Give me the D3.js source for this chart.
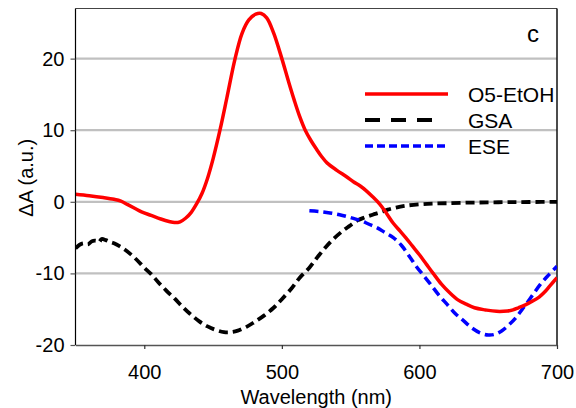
<!DOCTYPE html>
<html>
<head>
<meta charset="utf-8">
<script src="https://cdn.jsdelivr.net/npm/d3@7"></script>
<style>
  html, body { margin: 0; padding: 0; background: #fff; }
  svg { display: block; font-family: "Liberation Sans", Arial, sans-serif; }
</style>
</head>
<body>
<svg id="chart" width="576" height="408"></svg>
<script>
// Transient absorption difference spectra (ΔA vs wavelength)
const xTicks = [400, 500, 600, 700];
const xTickLabels = ["400", "500", "600", "700"];
const yTicks = [-20, -10, 0, 10, 20];
const yTickLabels = ["-20", "-10", "0", "10", "20"];
const gridValues = [-10, 0, 10, 20];

const seriesNames = ["O5-EtOH", "GSA", "ESE"];

// O5-EtOH measured spectrum
const etohWl = [350, 360, 370, 378, 383, 388, 393, 398, 405, 412, 418, 422, 426, 430, 434, 438, 442, 446, 450, 455, 460, 466, 471, 476, 481, 485, 489, 494, 500, 505, 509, 513, 517, 521, 525, 529, 533, 540, 547, 552, 557, 561, 566, 571, 576, 581, 586, 590, 595, 600, 605, 610, 616, 622, 628, 634, 640, 648, 656, 664, 668, 672, 677, 682, 687, 691, 695, 700];
const etohDA = [1.05, 0.85, 0.6, 0.35, 0.1, -0.4, -0.9, -1.4, -1.9, -2.4, -2.75, -2.9, -2.8, -2.3, -1.5, -0.3, 1.2, 3.3, 6.0, 10.0, 14.5, 20.0, 23.5, 25.4, 26.2, 26.3, 25.7, 23.6, 20.0, 16.7, 14.2, 11.9, 10.0, 8.6, 7.4, 6.3, 5.4, 4.4, 3.5, 2.8, 2.2, 1.6, 0.7, -0.3, -1.6, -3.0, -4.1, -5.0, -6.2, -7.4, -8.7, -10.0, -11.5, -12.7, -13.7, -14.3, -14.8, -15.1, -15.3, -15.25, -15.1, -14.8, -14.4, -13.9, -13.3, -12.6, -11.7, -10.6];

// Ground-state absorption component
const gsaWl = [350, 353, 356, 359, 362, 365, 367, 369, 372, 375, 378, 382, 386, 390, 395, 400, 405, 410, 416, 422, 428, 433, 440, 446, 452, 458, 463, 468, 474, 480, 487, 494, 500, 507, 513, 520, 526, 532, 538, 544, 549, 555, 560, 566, 571, 577, 583, 590, 600, 610, 620, 635, 650, 665, 680, 700];
const gsaDA = [-6.5, -6.0, -5.8, -5.95, -5.5, -5.45, -5.65, -5.2, -5.35, -5.6, -5.8, -6.2, -6.7, -7.3, -8.2, -9.2, -10.1, -11.2, -12.4, -13.5, -14.7, -15.6, -16.7, -17.4, -17.9, -18.2, -18.2, -18.0, -17.5, -16.8, -15.9, -14.8, -13.6, -12.1, -10.6, -9.2, -7.7, -6.3, -5.1, -4.1, -3.4, -2.6, -2.2, -1.8, -1.5, -1.1, -0.8, -0.55, -0.35, -0.25, -0.2, -0.12, -0.08, -0.05, -0.03, 0.0];

// Excited-state emission component
const eseWl = [520, 527, 535, 542, 550, 557, 563, 569, 575, 581, 587, 593, 598, 603, 608, 614, 620, 626, 632, 638, 644, 650, 655, 660, 665, 670, 676, 682, 688, 694, 700];
const eseDA = [-1.25, -1.35, -1.55, -1.8, -2.2, -2.6, -3.1, -3.6, -4.3, -5.0, -6.1, -7.7, -9.1, -10.3, -11.5, -13.0, -14.3, -15.6, -16.6, -17.6, -18.3, -18.6, -18.5, -18.0, -17.2, -16.2, -14.7, -13.1, -11.5, -10.2, -9.0];

const svg = d3.select("#chart");
const plot = { left: 75.5, right: 557, top: 8.5, bottom: 345 };

const x = d3.scaleLinear().domain([350, 700]).range([plot.left, plot.right]);
const y = d3.scaleLinear().domain([-20, 27]).range([plot.bottom, plot.top]);

// clip region for the curves
svg.append("defs").append("clipPath").attr("id", "plotClip")
  .append("rect")
  .attr("x", plot.left).attr("y", plot.top)
  .attr("width", plot.right - plot.left).attr("height", plot.bottom - plot.top);

// horizontal grid lines
svg.append("g").selectAll("line").data(gridValues).join("line")
  .attr("x1", plot.left).attr("x2", plot.right)
  .attr("y1", d => y(d)).attr("y2", d => y(d))
  .attr("stroke", "#c0c0c0").attr("stroke-width", 2.2);

// frame: top and right edges
svg.append("line").attr("x1", plot.left).attr("x2", plot.right)
  .attr("y1", plot.top).attr("y2", plot.top)
  .attr("stroke", "#444").attr("stroke-width", 1.2);
svg.append("line").attr("x1", plot.right).attr("x2", plot.right)
  .attr("y1", plot.top).attr("y2", plot.bottom)
  .attr("stroke", "#111").attr("stroke-width", 1.5);

const line = d3.line()
  .x(d => x(d[0])).y(d => y(d[1]))
  .curve(d3.curveCatmullRom.alpha(0.5));

const curves = svg.append("g").attr("clip-path", "url(#plotClip)");

curves.append("path")
  .datum(gsaWl.map((w, i) => [w, gsaDA[i]]))
  .attr("d", line).attr("fill", "none")
  .attr("stroke", "#000").attr("stroke-width", 3.8)
  .attr("stroke-dasharray", "9,5");

curves.append("path")
  .datum(eseWl.map((w, i) => [w, eseDA[i]]))
  .attr("d", line).attr("fill", "none")
  .attr("stroke", "#0000ff").attr("stroke-width", 3.5)
  .attr("stroke-dasharray", "9,5");

curves.append("path")
  .datum(etohWl.map((w, i) => [w, etohDA[i]]))
  .attr("d", line).attr("fill", "none")
  .attr("stroke", "#ff0000").attr("stroke-width", 3.5)
  .attr("stroke-linejoin", "round");

// left axis
const yAxis = d3.axisLeft(y).tickValues(yTicks)
  .tickFormat((d, i) => yTickLabels[i]).tickSize(5).tickPadding(6).tickSizeOuter(0);
const gy = svg.append("g").attr("transform", `translate(${plot.left},0)`).call(yAxis);
gy.select(".domain").attr("stroke", "#000").attr("stroke-width", 1.2)
  .attr("d", `M0,${plot.top}V${plot.bottom}`);
gy.selectAll(".tick line").attr("stroke", "#555").attr("stroke-width", 1.2);
gy.selectAll(".tick text").attr("font-size", 20).attr("fill", "#000")
  .attr("font-family", "Liberation Sans, Arial, sans-serif");

// bottom axis
const xAxis = d3.axisBottom(x).tickValues(xTicks)
  .tickFormat((d, i) => xTickLabels[i]).tickSize(4).tickPadding(16).tickSizeOuter(0);
const gx = svg.append("g").attr("transform", `translate(0,${plot.bottom})`).call(xAxis);
gx.select(".domain").attr("stroke", "#555").attr("stroke-width", 1.6);
gx.selectAll(".tick line").attr("stroke", "#333").attr("stroke-width", 1.2);
gx.selectAll(".tick text").attr("font-size", 20).attr("fill", "#000")
  .attr("font-family", "Liberation Sans, Arial, sans-serif");

// axis titles
svg.append("text")
  .attr("x", (plot.left + plot.right) / 2).attr("y", 404)
  .attr("text-anchor", "middle").attr("font-size", 20).attr("fill", "#000")
  .text("Wavelength (nm)");
svg.append("text")
  .attr("transform", `translate(33,${(plot.top + plot.bottom) / 2 + 1}) rotate(-90)`)
  .attr("text-anchor", "middle").attr("font-size", 20).attr("fill", "#000")
  .text("ΔA (a.u.)");

// panel letter
svg.append("text").attr("x", 527).attr("y", 41.5)
  .attr("font-size", 24).attr("fill", "#000").text("c");

// legend
const legendStyles = [
  { color: "#ff0000", dash: null, width: 3.5, x2: 448 },
  { color: "#000", dash: "15,11", width: 4, x2: 439 },
  { color: "#0000ff", dash: "8,4", width: 3.5, x2: 448 }
];
const legend = svg.append("g");
seriesNames.forEach((name, i) => {
  const ly = 94 + i * 26;
  const s = legendStyles[i];
  legend.append("line")
    .attr("x1", 365).attr("x2", s.x2).attr("y1", ly).attr("y2", ly)
    .attr("stroke", s.color).attr("stroke-width", s.width)
    .attr("stroke-dasharray", s.dash);
  legend.append("text")
    .attr("x", 468).attr("y", ly + 8)
    .attr("font-size", 21).attr("fill", "#000").text(name);
});
</script>
</body>
</html>
